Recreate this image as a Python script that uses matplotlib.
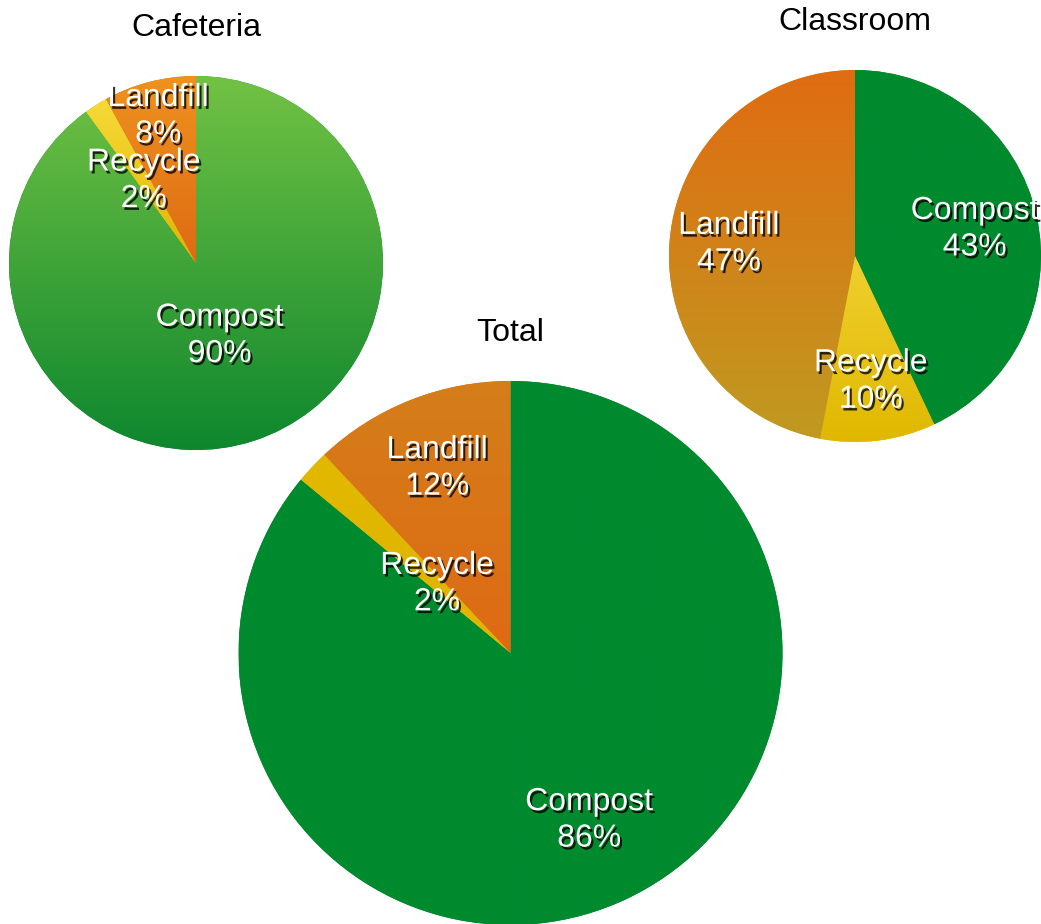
import numpy as np
import matplotlib
matplotlib.use('Agg')
import matplotlib.pyplot as plt
import matplotlib.patheffects as pe
from matplotlib.colors import LinearSegmentedColormap

########################################################################################################################
# Data
########################################################################################################################
categories = ['Compost', 'Recycle', 'Landfill']
cafeteria_pct = [90, 2, 8]
classroom_pct = [43, 10, 47]
total_pct = [86, 2, 12]

########################################################################################################################
# Layout / style (figure works in pixel units, y measured from top)
########################################################################################################################
W, H = 1041, 924
plt.rcParams['font.family'] = ['Liberation Sans', 'DejaVu Sans']

# (title, values, centre x, centre y from top, radius, label distances, gradient (top, bottom) per wedge)
pies = [
    ('Cafeteria', cafeteria_pct, 196, 263, 187, [0.41, 0.52, 0.81],
     [('#72c244', '#0e872e'), ('#f6da38', '#e2b400'), ('#ef921e', '#de6a14')]),
    ('Classroom', classroom_pct, 855, 256, 186, [0.66, 0.68, 0.68],
     [('#008a2e', '#008a2e'), ('#f0d030', '#e0b800'), ('#e06c12', '#c09a20')]),
    ('Total', total_pct, 510.5, 653, 272, [0.68, 0.37, 0.73],
     [('#008a2e', '#008a2e'), ('#e2b800', '#e0b400'), ('#d47e1a', '#df6a14')]),
]

fig = plt.figure(figsize=(W / 100, H / 100), dpi=100)
ax = fig.add_axes([0, 0, 1, 1])

shadow = [pe.withSimplePatchShadow(offset=(1.5, -2), shadow_rgbFace='black', alpha=0.8)]

for title, vals, cx, cy_top, r, dists, grads in pies:
    cy = H - cy_top
    wedges, _ = ax.pie(vals, center=(cx, cy), radius=r, startangle=90, counterclock=False,
                       colors=[g[1] for g in grads], wedgeprops=dict(linewidth=0))

    # vertical gradient fill clipped to each wedge
    for w, (c_top, c_bot) in zip(wedges, grads):
        ext = w.get_path().get_extents()
        cmap = LinearSegmentedColormap.from_list('g', [c_bot, c_top])
        grad = np.linspace(0, 1, 256).reshape(-1, 1)
        im = ax.imshow(grad, extent=(ext.x0, ext.x1, ext.y0, ext.y1), origin='lower',
                       cmap=cmap, aspect='auto', zorder=w.get_zorder() + 0.1, interpolation='bilinear')
        im.set_clip_path(w)

    for w, name, v, d in zip(wedges, categories, vals, dists):
        mid = np.deg2rad((w.theta1 + w.theta2) / 2)
        ax.text(cx + d * r * np.cos(mid), cy + d * r * np.sin(mid), f'{name}\n{v}%',
                ha='center', va='center', color='white', fontsize=23, linespacing=1.28,
                path_effects=shadow, zorder=5)

    ax.text(cx, cy + r + 40, title, ha='center', va='baseline', fontsize=23, color='black', zorder=5)

ax.set_xlim(0, W)
ax.set_ylim(0, H)
ax.set_aspect('auto')
ax.axis('off')

plt.savefig('out.png', dpi=100)
